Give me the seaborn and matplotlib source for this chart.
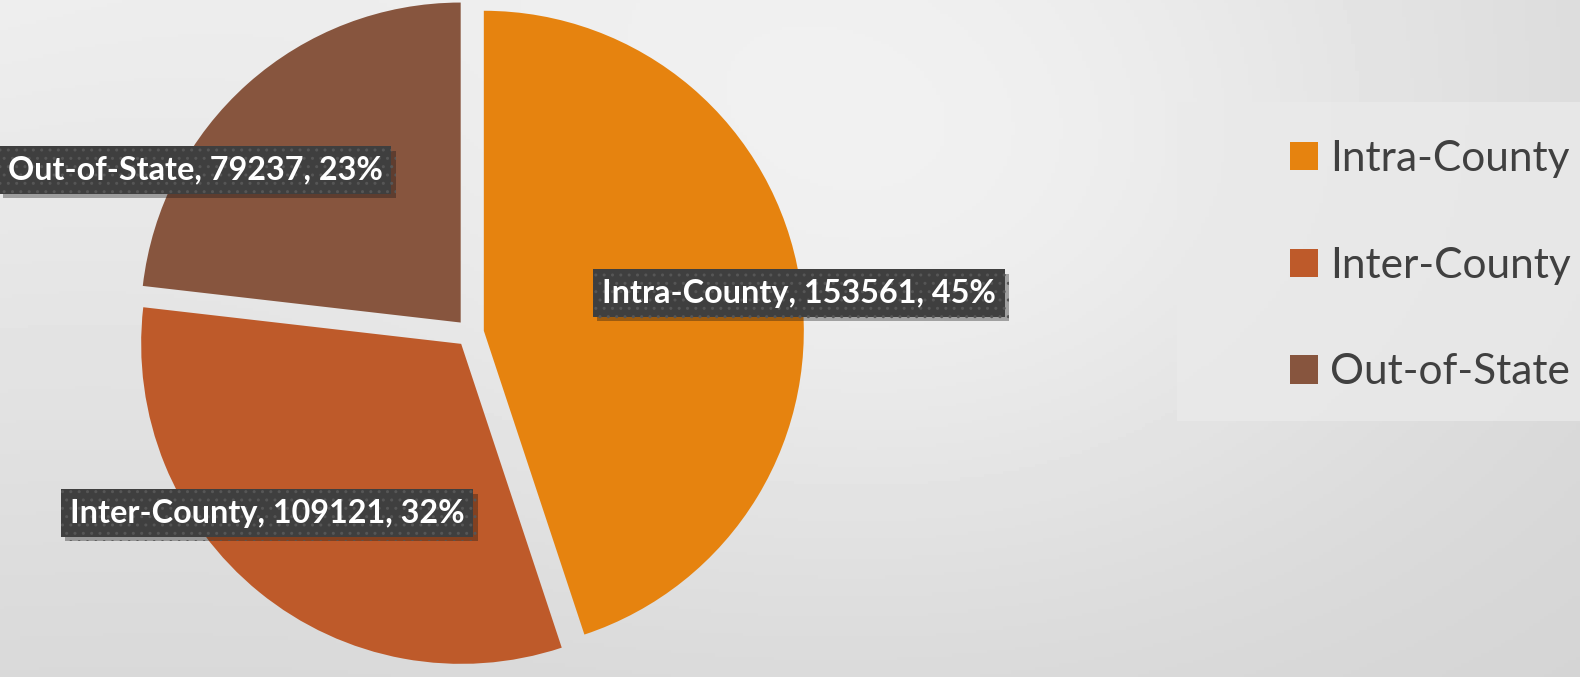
import numpy as np
import seaborn as sns
import matplotlib
matplotlib.use('Agg')
import matplotlib.pyplot as plt
from matplotlib import patheffects
from matplotlib.patches import Rectangle

# data
categories = ['Intra-County', 'Inter-County', 'Out-of-State']
counts = [153561, 109121, 79237]
percents = [45, 32, 23]
colors = ['#E6830F', '#BE5A2A', '#87553E']

sns.set_style('white')
plt.rcParams['font.family'] = ['Lato', 'DejaVu Sans']

W, H = 1580, 677
fig = plt.figure(figsize=(W / 100, H / 100), dpi=100)

# background gradient
bg = fig.add_axes([0, 0, 1, 1])
xx, yy = np.meshgrid(np.linspace(0, 1, 400), np.linspace(0, 1, 200))
tl, tr, bl, br = 0.93, 0.85, 0.85, 0.83
grad = tl * (1 - xx) * (1 - yy) + tr * xx * (1 - yy) + bl * (1 - xx) * yy + br * xx * yy
grad += 0.07 * np.exp(-(((xx - 0.6) / 0.35) ** 2 + ((yy - 0.3) / 0.6) ** 2))
bg.imshow(np.clip(grad, 0, 1), cmap='gray', vmin=0, vmax=1, aspect='auto', extent=[0, 1, 0, 1])
# legend panel
bg.add_patch(Rectangle((1177 / W, 1 - 421 / H), (W - 1177) / W, (421 - 102) / H,
                       transform=fig.transFigure, facecolor='#EAEAEA',
                       edgecolor='none', alpha=0.8))
bg.axis('off')

# pie in pixel coordinates (explode is in data units here)
ax = fig.add_axes([0, 0, 1, 1])
ax.patch.set_alpha(0)
wedges, _ = ax.pie(counts, colors=colors, startangle=90, counterclock=False,
                   explode=[14] * len(counts), radius=320, center=(470, H - 333),
                   wedgeprops=dict(linewidth=0), frame=True)
ax.set_xlim(0, W)
ax.set_ylim(0, H)
ax.set_aspect('equal')
ax.axis('off')

# data labels
label_pos = [(799, H - 293), (267, H - 513), (195, H - 170)]
for cat, cnt, pct, (x, y) in zip(categories, counts, percents, label_pos):
    t = ax.text(x, y, f'{cat}, {cnt}, {pct}%', ha='center', va='center',
                color='white', fontsize=23.3, fontweight='bold',
                bbox=dict(boxstyle='square,pad=0.28', facecolor='#3F3F3F',
                          edgecolor='#565656', linewidth=0, hatch='..'))
    t.get_bbox_patch().set_path_effects([
        patheffects.SimplePatchShadow(offset=(3, -3), alpha=0.35),
        patheffects.Normal()])

# legend
leg = ax.legend(wedges, categories, loc='upper left',
                bbox_to_anchor=(1290 / W, 1 - 140 / H), bbox_transform=fig.transFigure,
                frameon=False, fontsize=30.5,
                handlelength=0.65, handleheight=0.65, handletextpad=0.3,
                labelspacing=1.62, borderpad=0, borderaxespad=0)
for txt in leg.get_texts():
    txt.set_color('#404040')

plt.savefig('out.png', dpi=100)
